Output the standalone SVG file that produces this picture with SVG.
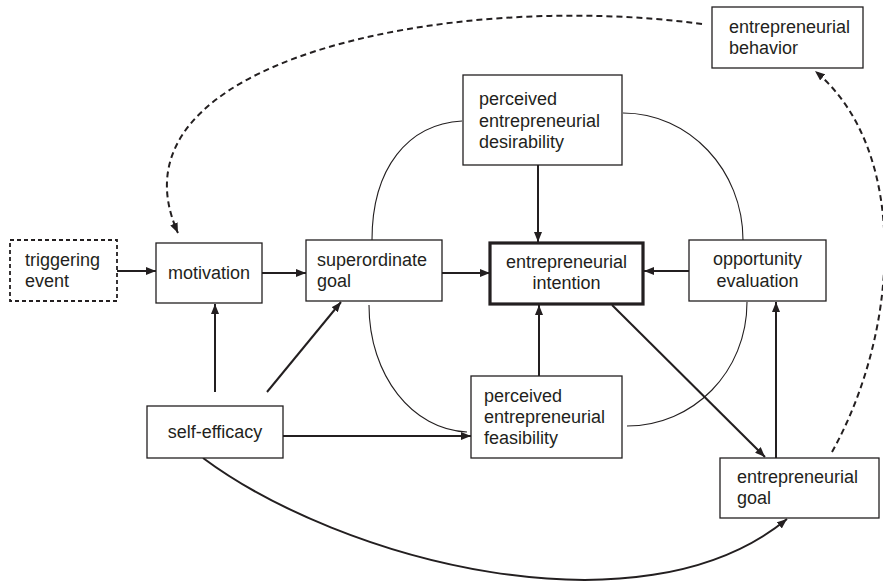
<svg xmlns="http://www.w3.org/2000/svg" width="883" height="582" viewBox="0 0 883 582">
<defs>
<marker id="ah" markerUnits="userSpaceOnUse" markerWidth="11" markerHeight="8" refX="10" refY="4" orient="auto">
<path d="M0,0 L10,4 L0,8 z" fill="#231f20"/>
</marker>
<style>
.box{fill:#fff;stroke:#231f20;stroke-width:1.3}
.bold{stroke-width:3.2}
.dbox{stroke-dasharray:4,3;stroke-width:1.8}
text{font-family:"Liberation Sans",Arial,sans-serif;font-size:18px;fill:#231f20}
.c{text-anchor:middle}
.con{fill:none;stroke:#231f20;stroke-width:2;marker-end:url(#ah)}
.thin{fill:none;stroke:#231f20;stroke-width:1.1}
.dash{fill:none;stroke:#231f20;stroke-width:2;stroke-dasharray:6,4;marker-end:url(#ah)}
</style>
</defs>
<rect width="883" height="582" fill="#fff"/>
<g id="connectors">
<path class="thin" d="M372,240 C372,168 408,124 462,121"/>
<path class="thin" d="M623,113 C689,113 743,170 743,240"/>
<path class="thin" d="M747,302 C747,372 693,426 627,426"/>
<path class="thin" d="M369,305 C369,376 413,430 467,432"/>
<path class="con" d="M117,271 L156,271"/>
<path class="con" d="M262,273 L306,273"/>
<path class="con" d="M442,273 L490,273"/>
<path class="con" d="M538,165 L538,242"/>
<path class="con" d="M539,376 L539,305"/>
<path class="con" d="M689,271 L644,271"/>
<path class="con" d="M215,392 L215,304"/>
<path class="con" d="M267,392 L341,302"/>
<path class="con" d="M283,436 L471,436"/>
<path class="con" d="M612,305 L765,457"/>
<path class="con" d="M776,458 L776,302"/>
<path class="con" d="M203,458 C340,560 640,640 787,519"/>
<path class="dash" d="M702,24 C450,-10 100,60 178,233"/>
<path class="dash" d="M832,452 C900,330 910,150 815,71"/>
</g>
<g id="triggering-event">
<rect class="box dbox" x="10" y="240" width="107" height="61"/>
<text x="25" y="266">triggering</text>
<text x="25" y="287">event</text>
</g>
<g id="motivation">
<rect class="box" x="156" y="243" width="106" height="60"/>
<text class="c" x="209" y="279">motivation</text>
</g>
<g id="superordinate-goal">
<rect class="box" x="306" y="240" width="136" height="61"/>
<text x="317" y="266">superordinate</text>
<text x="317" y="287">goal</text>
</g>
<g id="entrepreneurial-intention">
<rect class="box bold" x="490" y="243" width="153" height="61"/>
<text class="c" x="566.5" y="268">entrepreneurial</text>
<text class="c" x="566.5" y="289">intention</text>
</g>
<g id="perceived-desirability">
<rect class="box" x="463" y="75" width="159" height="90"/>
<text x="479" y="105">perceived</text>
<text x="479" y="127">entrepreneurial</text>
<text x="479" y="148">desirability</text>
</g>
<g id="opportunity-evaluation">
<rect class="box" x="689" y="240" width="137" height="61"/>
<text class="c" x="757.5" y="265">opportunity</text>
<text class="c" x="757.5" y="287">evaluation</text>
</g>
<g id="perceived-feasibility">
<rect class="box" x="471" y="376" width="151" height="82"/>
<text x="484" y="402">perceived</text>
<text x="484" y="423">entrepreneurial</text>
<text x="484" y="444">feasibility</text>
</g>
<g id="self-efficacy">
<rect class="box" x="147" y="406" width="136" height="52"/>
<text class="c" x="215" y="438">self-efficacy</text>
</g>
<g id="entrepreneurial-goal">
<rect class="box" x="720" y="458" width="159" height="60"/>
<text x="737" y="483">entrepreneurial</text>
<text x="737" y="504">goal</text>
</g>
<g id="entrepreneurial-behavior">
<rect class="box" x="712" y="7" width="151" height="61"/>
<text x="729" y="33">entrepreneurial</text>
<text x="729" y="54">behavior</text>
</g>
</svg>
